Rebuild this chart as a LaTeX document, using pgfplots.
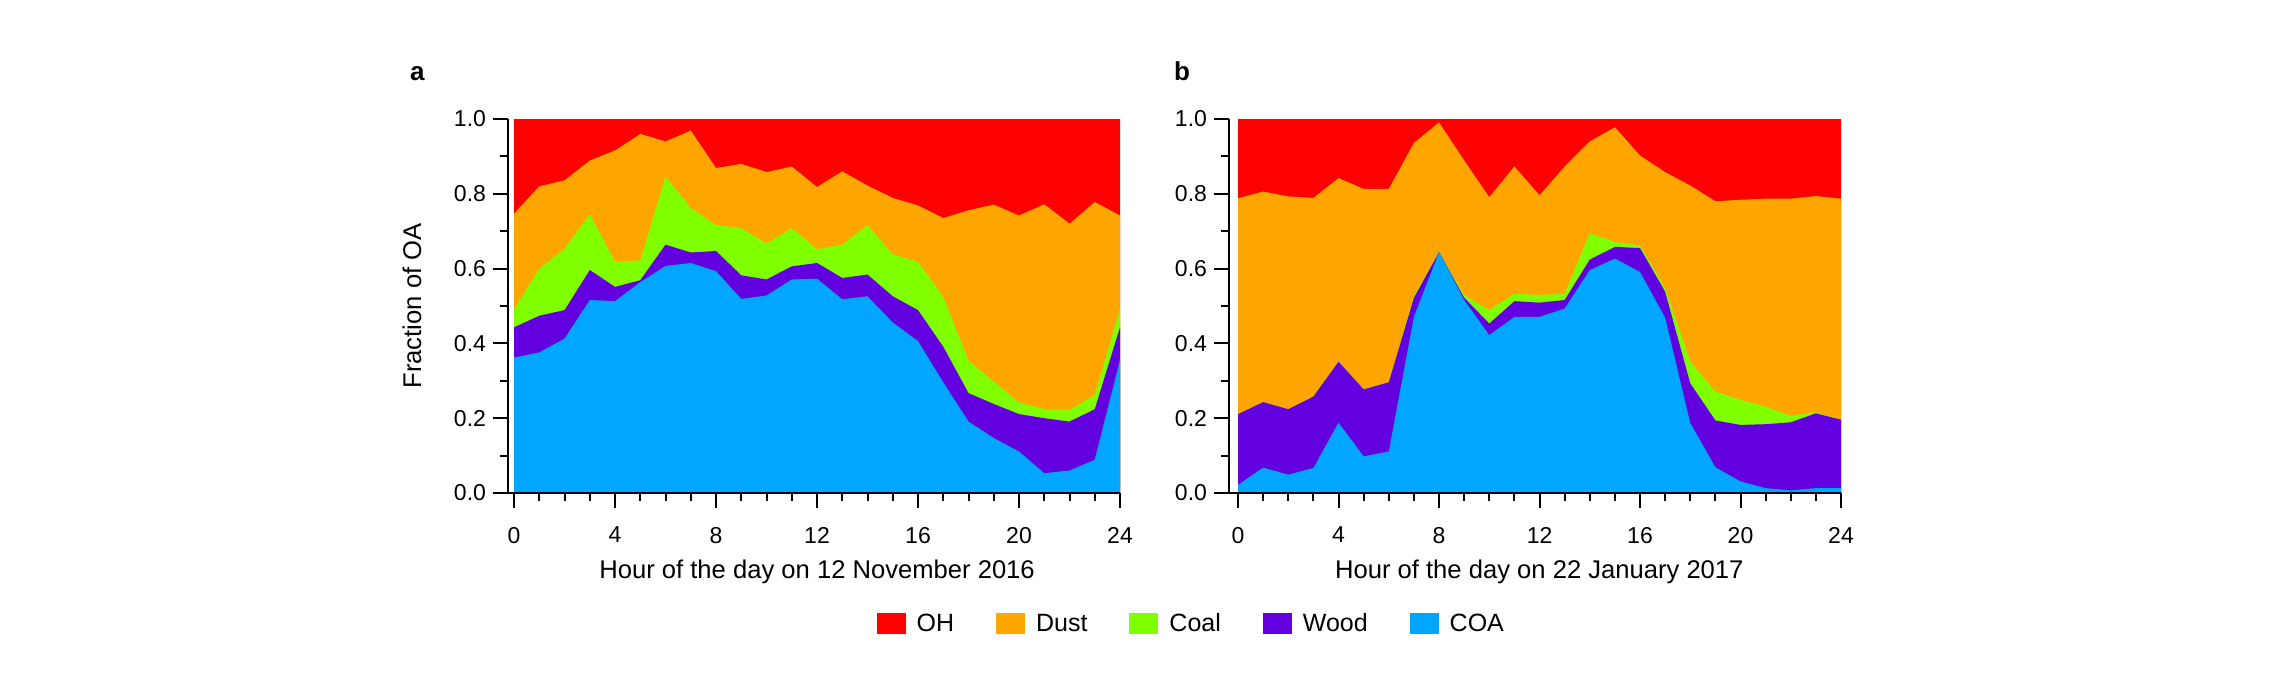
\documentclass[border=0pt]{standalone}
\usepackage{fontspec}
\setmainfont{Liberation Sans}
\usepackage{pgfplots}
\usepackage{pgfplotstable}
\pgfplotsset{compat=1.18}
\definecolor{cOH}{HTML}{FF0000}
\definecolor{cDust}{HTML}{FFA500}
\definecolor{cCoal}{HTML}{7FFF00}
\definecolor{cWood}{HTML}{6200E0}
\definecolor{cCOA}{HTML}{00A6FF}

% cumulative tops of the stacked layers
\pgfplotstableread{
h  coa   wood  coal  dust  oh
0  0.362 0.443 0.491 0.747 1
1  0.376 0.474 0.600 0.820 1
2  0.413 0.489 0.653 0.836 1
3  0.516 0.596 0.745 0.889 1
4  0.513 0.551 0.618 0.916 1
5  0.564 0.569 0.622 0.960 1
6  0.607 0.664 0.846 0.940 1
7  0.615 0.643 0.762 0.969 1
8  0.593 0.647 0.716 0.869 1
9  0.519 0.582 0.708 0.880 1
10 0.528 0.571 0.667 0.858 1
11 0.571 0.606 0.708 0.873 1
12 0.573 0.615 0.652 0.818 1
13 0.518 0.575 0.664 0.860 1
14 0.526 0.584 0.716 0.822 1
15 0.456 0.526 0.638 0.789 1
16 0.406 0.489 0.618 0.769 1
17 0.296 0.391 0.524 0.735 1
18 0.191 0.267 0.353 0.756 1
19 0.147 0.238 0.298 0.771 1
20 0.111 0.211 0.242 0.742 1
21 0.053 0.200 0.224 0.772 1
22 0.060 0.191 0.222 0.720 1
23 0.089 0.224 0.262 0.778 1
24 0.356 0.443 0.493 0.742 1
}\tabA

\pgfplotstableread{
h  coa   wood  coal  dust  oh
0  0.022 0.211 0.211 0.788 1
1  0.068 0.243 0.243 0.806 1
2  0.049 0.224 0.224 0.793 1
3  0.067 0.258 0.258 0.789 1
4  0.188 0.351 0.351 0.842 1
5  0.098 0.277 0.277 0.813 1
6  0.111 0.296 0.296 0.813 1
7  0.471 0.522 0.528 0.936 1
8  0.644 0.644 0.644 0.991 1
9  0.516 0.522 0.529 0.889 1
10 0.422 0.453 0.489 0.791 1
11 0.471 0.513 0.533 0.873 1
12 0.471 0.509 0.529 0.796 1
13 0.493 0.516 0.533 0.873 1
14 0.596 0.624 0.695 0.940 1
15 0.627 0.658 0.671 0.978 1
16 0.591 0.655 0.662 0.902 1
17 0.469 0.538 0.547 0.858 1
18 0.187 0.293 0.351 0.822 1
19 0.069 0.194 0.271 0.780 1
20 0.031 0.182 0.249 0.784 1
21 0.013 0.184 0.231 0.787 1
22 0.007 0.189 0.206 0.787 1
23 0.013 0.213 0.216 0.794 1
24 0.013 0.196 0.196 0.787 1
}\tabB

\pgfplotsset{
  panel/.style={
    scale only axis, width=306pt, height=187pt,
    ymin=0, ymax=1, xmax=24,
    axis x line*=bottom, axis y line*=left,
    axis line style={line width=1pt, -},
    xtick={0,4,...,24}, minor x tick num=3,
    ytick={0,0.2,0.4,0.6,0.8,1.0}, minor y tick num=1,
    tick align=outside, major tick length=7.5pt, minor tick length=4pt,
    every tick/.style={line width=1pt, black},
    yticklabel style={/pgf/number format/.cd, fixed, fixed zerofill, precision=1},
    xticklabel style={yshift=-6pt},
    /pgf/number format/assume math mode=true,
    tick label style={font=\fontsize{11.5}{13}\selectfont},
    label style={font=\fontsize{12.8}{15}\selectfont},
    axis on top,
    legend image code/.code={\fill[##1] (0pt,-5.25pt) rectangle (14.5pt,5.25pt);},
  },
  layer/.style={fill=#1, draw=none},
}

\begin{document}
\begin{tikzpicture}
\path (0,0) rectangle (1136.5pt,346pt);
\node[anchor=base west, font=\fontsize{13}{15}\selectfont\bfseries] at (201.5pt,305.75pt) {a};
\node[anchor=base west, font=\fontsize{13}{15}\selectfont\bfseries] at (583.5pt,305.75pt) {b};

\begin{axis}[panel, at={(254pt,99.5pt)}, anchor=south west, xmin=-0.24,
  xlabel={Hour of the day on 12 November 2016},
  ylabel={Fraction of OA},
  xlabel style={at={(axis description cs:0.505,-0.211)}, anchor=center},
  ylabel style={at={(axis description cs:-0.157,0.5)}, anchor=center},
  legend columns=5,
  legend style={at={(axis description cs:1.118,-0.350)}, anchor=center, draw=none,
    font=\fontsize{12.5}{14}\selectfont,
    /tikz/every odd column/.append style={column sep=3.5pt},
    /tikz/every even column/.append style={column sep=19pt}},
]
\addplot[layer=cOH]   table[x=h,y=oh]   {\tabA} \closedcycle;
\addplot[layer=cDust] table[x=h,y=dust] {\tabA} \closedcycle;
\addplot[layer=cCoal] table[x=h,y=coal] {\tabA} \closedcycle;
\addplot[layer=cWood] table[x=h,y=wood] {\tabA} \closedcycle;
\addplot[layer=cCOA]  table[x=h,y=coa]  {\tabA} \closedcycle;
\legend{OH,Dust,Coal,Wood,COA}
\end{axis}

\begin{axis}[panel, at={(614.5pt,99.5pt)}, anchor=south west, xmin=-0.36,
  xlabel={Hour of the day on 22 January 2017},
  xlabel style={at={(axis description cs:0.507,-0.211)}, anchor=center},
]
\addplot[layer=cOH]   table[x=h,y=oh]   {\tabB} \closedcycle;
\addplot[layer=cDust] table[x=h,y=dust] {\tabB} \closedcycle;
\addplot[layer=cCoal] table[x=h,y=coal] {\tabB} \closedcycle;
\addplot[layer=cWood] table[x=h,y=wood] {\tabB} \closedcycle;
\addplot[layer=cCOA]  table[x=h,y=coa]  {\tabB} \closedcycle;
\end{axis}
\end{tikzpicture}
\end{document}
